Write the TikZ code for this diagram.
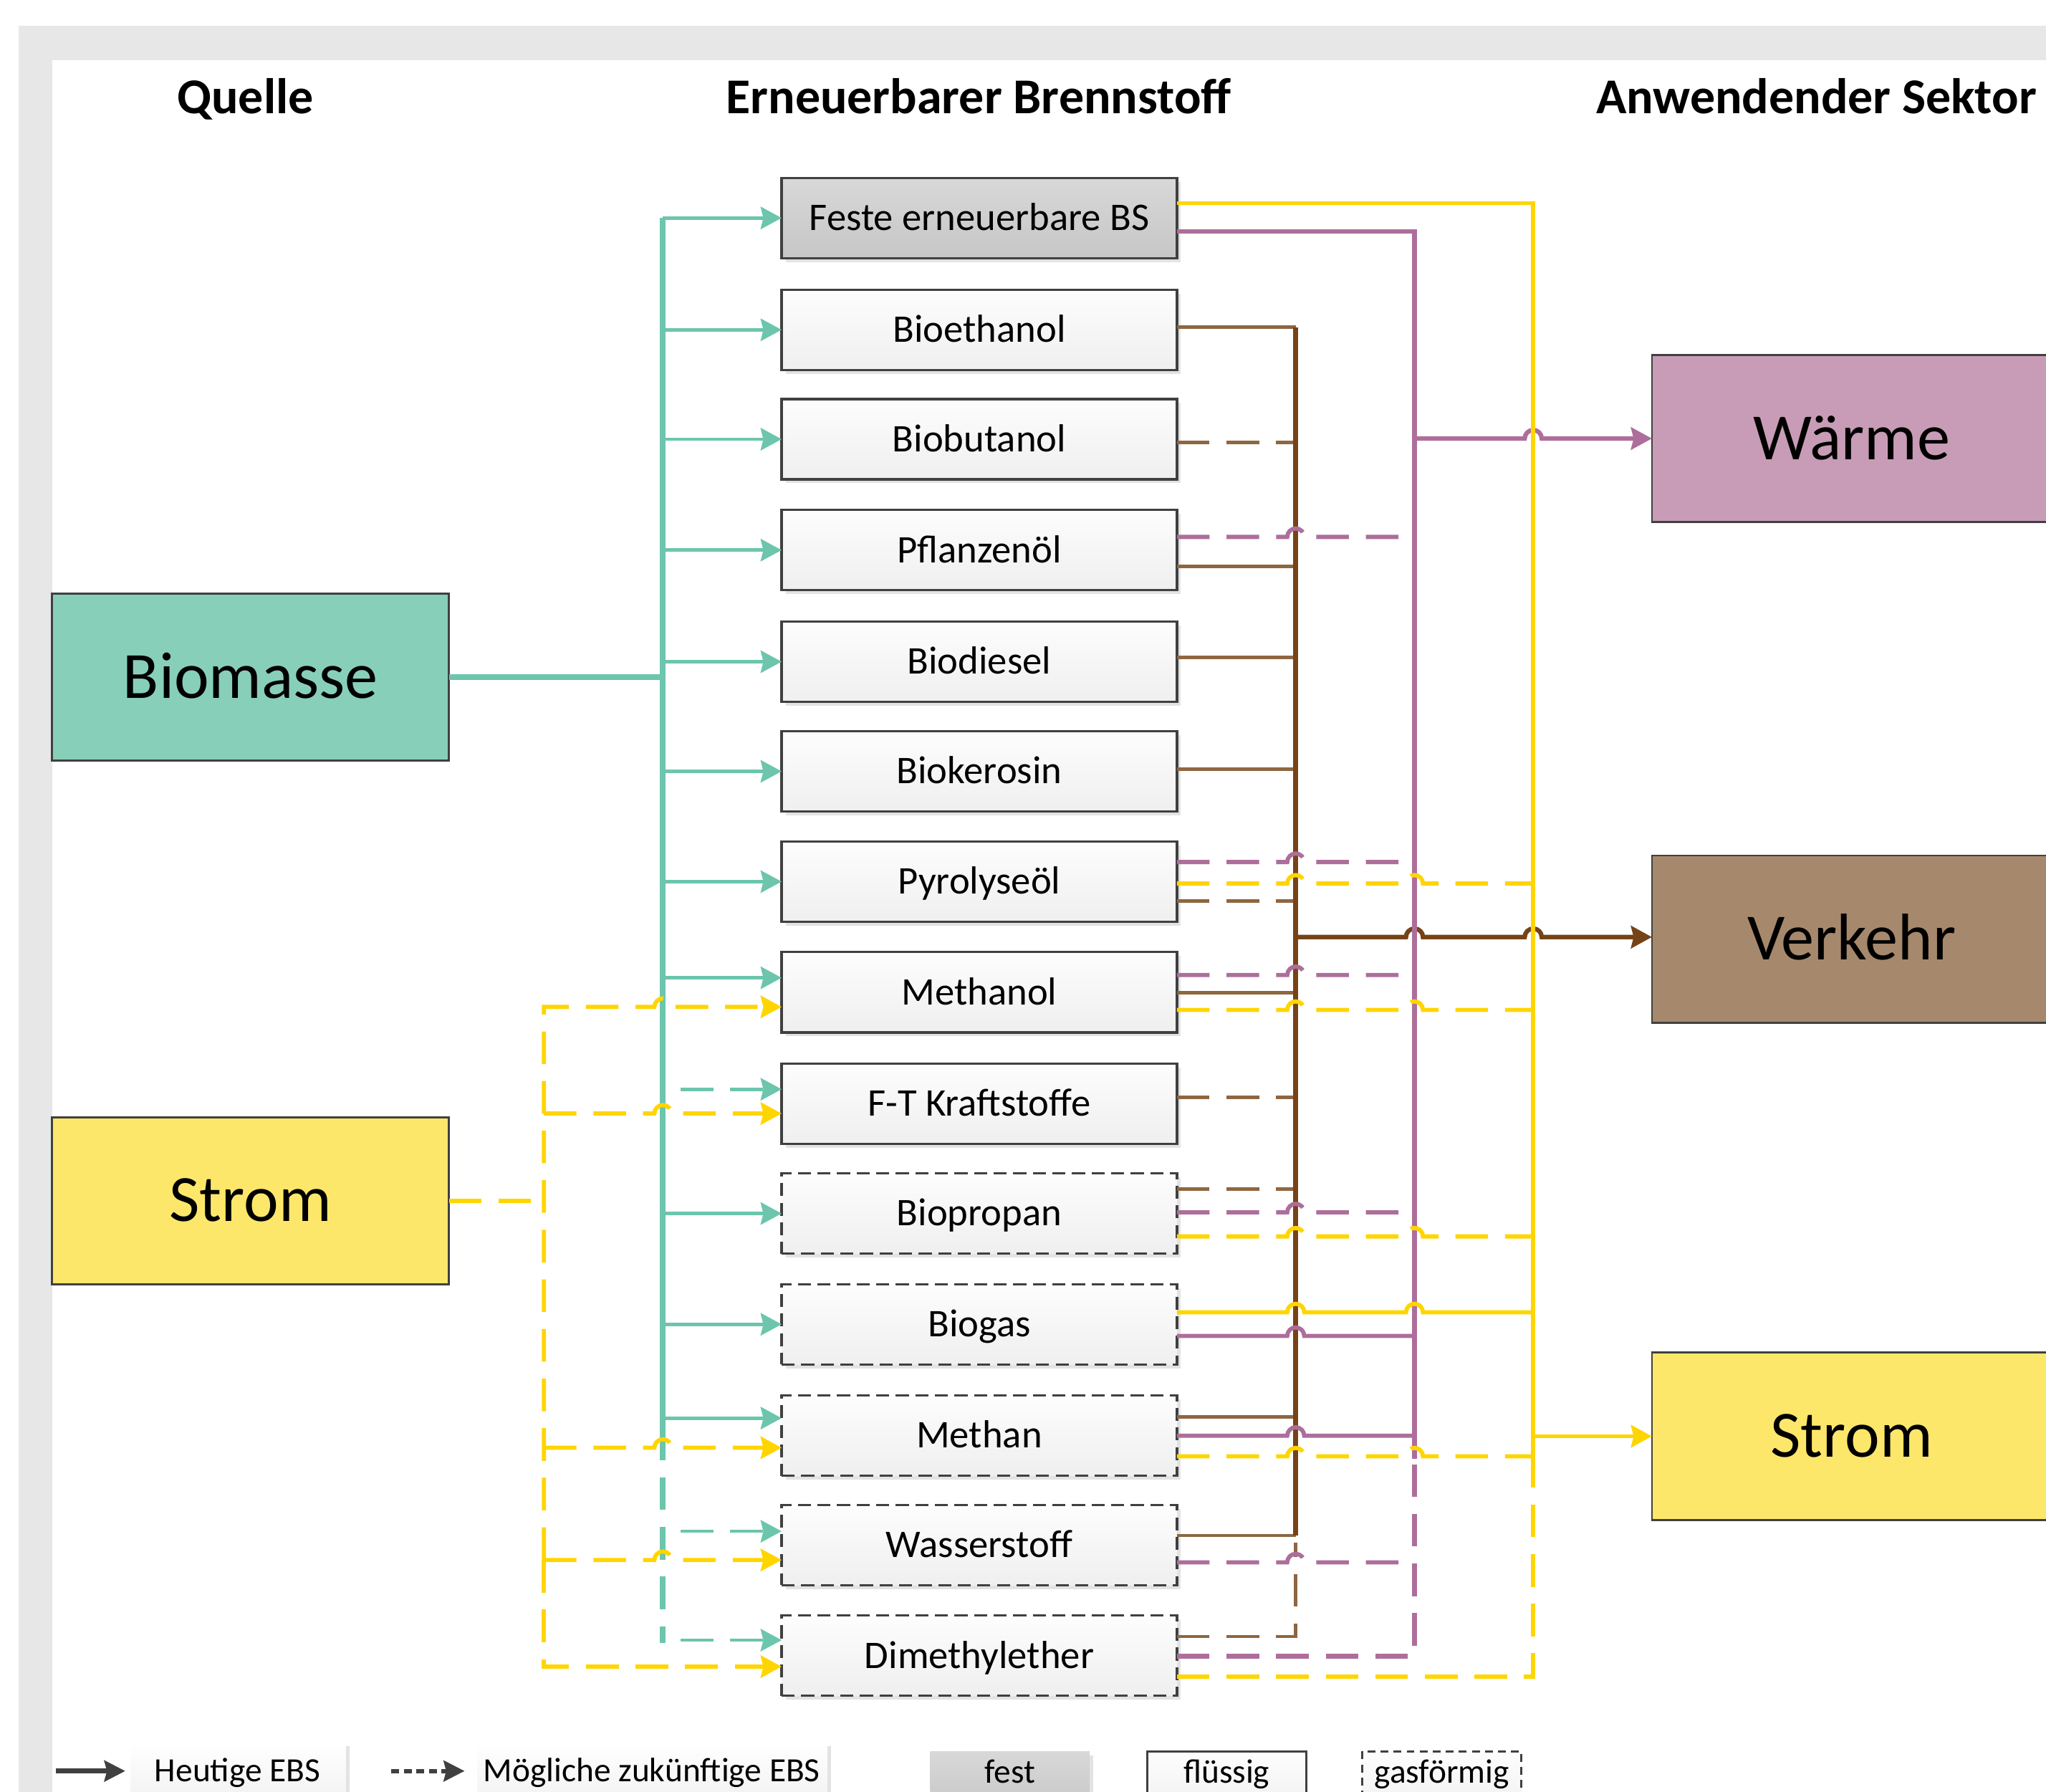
\documentclass[tikz,border=0pt]{standalone}
\usepackage{fontspec}
\setmainfont{Carlito}
\usetikzlibrary{arrows.meta,shadows}
\definecolor{bgGray}{HTML}{E7E7E7}
\definecolor{tealF}{HTML}{88CFBA}
\definecolor{tealL}{HTML}{6CC5AC}
\definecolor{yelF}{HTML}{FDE76B}
\definecolor{yelL}{HTML}{FFD500}
\definecolor{pinkF}{HTML}{C89CB6}
\definecolor{pinkL}{HTML}{AD6E9B}
\definecolor{brownF}{HTML}{A6896C}
\definecolor{brownL}{HTML}{8E6640}
\definecolor{brownD}{HTML}{754316}
\definecolor{edgeC}{HTML}{404040}
\definecolor{boxTop}{HTML}{FDFDFD}
\definecolor{boxBot}{HTML}{EFEFEF}
\definecolor{solTop}{HTML}{D8D8D8}
\definecolor{solBot}{HTML}{C6C6C6}
\definecolor{shadowC}{HTML}{E3E3E3}

\newcommand\hopat[2]{-- ({#1-6.5},#2) arc[start angle=180,end angle=0,radius=3.25pt]}

\begin{document}
\begin{tikzpicture}[x=0.5pt,y=-0.5pt,
  every node/.style={inner sep=0pt,outer sep=0pt},
  fuel/.style={draw=edgeC,line width=0.9pt,minimum width=151.5pt,minimum height=30.75pt,
     top color=boxTop,bottom color=boxBot,font=\fontsize{15}{18}\selectfont,
     text height=11pt,text depth=1.5pt,
     drop shadow={shadow xshift=1.5pt,shadow yshift=-1.5pt,fill=shadowC,opacity=1}},
  solidfuel/.style={fuel,top color=solTop,bottom color=solBot},
  gasfuel/.style={fuel,dash pattern=on 5pt off 2.5pt},
  big/.style={draw=edgeC,line width=0.8pt,minimum width=152pt,minimum height=64pt,
     font=\fontsize{25.3}{30}\selectfont,text height=18pt,text depth=2pt},
  head/.style={font=\fontsize{19.2}{23}\selectfont\bfseries,text height=13.6pt,text depth=1.5pt},
  leg/.style={font=\fontsize{13}{16}\selectfont,text height=9.7pt,text depth=1.5pt},
  arr/.style={-{Stealth[length=8pt,width=8.5pt,inset=1pt]}},
  dsh/.style={dash pattern=on 12.5pt off 6.5pt},
  tl/.style={draw=tealL,line width=1.3pt},
  tlbus/.style={draw=tealL,line width=2.2pt},
  yl/.style={draw=yelL,line width=1.6pt},
  pk/.style={draw=pinkL,line width=1.6pt},
  br/.style={draw=brownL,line width=1.3pt},
  brbus/.style={draw=brownD,line width=1.8pt},
]
\useasboundingbox (0,0) rectangle (1568,1373);
\fill[bgGray] (14,20) rectangle (1580,1390);
\fill[white] (40,46) rectangle (1580,1390);

% headers
\node[head] (hq) at (188,75) {Quelle};
\node[head] (hb) at (750,75) {Erneuerbarer Brennstoff};
\node[head] (ha) at (1392,75) {Anwendender Sektor};

% sources and sectors
\node[big,fill=tealF] (bio) at (192,519) {Biomasse};
\node[big,fill=yelF] (strL) at (192,920) {Strom};
\node[big,fill=pinkF,minimum width=153pt] (waerme) at (1419,336) {Wärme};
\node[big,fill=brownF,minimum width=153pt] (verkehr) at (1419,719.5) {Verkehr};
\node[big,fill=yelF,minimum width=153pt] (strR) at (1419,1100.5) {Strom};

% fuels
\node[solidfuel] (f0) at (750.5,167) {Feste erneuerbare BS};
\node[fuel] (f1) at (750.5,252.7) {Bioethanol};
\node[fuel] (f2) at (750.5,336.5) {Biobutanol};
\node[fuel] (f3) at (750.5,421.5) {Pflanzenöl};
\node[fuel] (f4) at (750.5,507) {Biodiesel};
\node[fuel] (f5) at (750.5,591) {Biokerosin};
\node[fuel] (f6) at (750.5,675.5) {Pyrolyseöl};
\node[fuel] (f7) at (750.5,760.3) {Methanol};
\node[fuel] (f8) at (750.5,845.6) {F-T Kraftstoffe};
\node[gasfuel] (f9) at (750.5,929.8) {Biopropan};
\node[gasfuel] (f10) at (750.5,1014.7) {Biogas};
\node[gasfuel] (f11) at (750.5,1100) {Methan};
\node[gasfuel] (f12) at (750.5,1183.8) {Wasserstoff};
\node[gasfuel] (f13) at (750.5,1268.6) {Dimethylether};

% ---------- teal (Biomasse)
\coordinate (TB) at (508,0);
\draw[tlbus] (bio.east) -- (bio.east -| TB);
\draw[tlbus] (TB |- f0.west) -- (508,1094);
\draw[tlbus,dsh] (508,1094) -- (508,1259);
\foreach \i in {0,...,6,9,10} { \draw[tl,arr] (TB |- f\i.west) -- (f\i.west); }
\draw[tl,arr] (508,749.2) -- (f7.west |- 0,749.2);
\draw[tl,arr] (508,1086.6) -- (f11.west |- 0,1086.6);
\draw[tl,dsh,arr] (521.7,834.6) -- (f8.west |- 0,834.6);
\draw[tl,dsh,arr] (521.7,1173.3) -- (f12.west |- 0,1173.3);
\draw[tl,dsh,arr] (521.7,1256.7) -- (f13.west |- 0,1256.7);

% ---------- yellow (Strom) left
\coordinate (YB) at (416.8,0);
\draw[yl,dsh] (strL.east) -- (strL.east -| YB);
\draw[yl,dsh,arr] (416.8,1195.3) -- (416.8,771.5) \hopat{508}{771.5} -- (f7.west |- 0,771.5);
\draw[yl,dsh,arr] (416.8,853.2) \hopat{508}{853.2} -- (f8.west |- 0,853.2);
\draw[yl,dsh,arr] (416.8,1109.3) \hopat{508}{1109.3} -- (f11.west |- 0,1109.3);
\draw[yl,dsh,arr] (416.8,1195.3) \hopat{508}{1195.3} -- (f12.west |- 0,1195.3);
\draw[yl,dsh,arr] (416.8,1195.3) -- (416.8,1277) -- (f13.west |- 0,1277);

% ---------- brown (Verkehr)
\draw[br] (f1.east |- 0,250.7) -- (993,250.7);
\draw[br,dsh] (f2.east |- 0,339.1) -- (993,339.1);
\draw[br] (f3.east |- 0,434.1) -- (993,434.1);
\draw[br] (f4.east |- 0,503.7) -- (993,503.7);
\draw[br] (f5.east |- 0,589.5) -- (993,589.5);
\draw[br,dsh] (f6.east |- 0,690.4) -- (993,690.4);
\draw[br] (f7.east |- 0,760.8) -- (993,760.8);
\draw[br,dsh] (f8.east |- 0,840.6) -- (993,840.6);
\draw[br,dsh] (f9.east |- 0,911) -- (993,911);
\draw[br] (f11.east |- 0,1085.6) -- (993,1085.6);
\draw[br] (f12.east |- 0,1176.5) -- (993,1176.5);
\draw[br,dsh] (f13.east |- 0,1254) -- (993,1254) -- (993,1182);
\draw[brbus] (993,250.7) -- (993,1176.5);
\draw[brbus,line width=1.7pt,arr] (993,718) \hopat{1084}{718} \hopat{1175}{718} -- (verkehr.west |- 0,718);

% ---------- pink (Wärme)
\draw[pk,line width=1.7pt] (f0.east |- 0,177.4) -- (1084,177.4) -- (1084,1118);
\draw[pk,dsh,line width=1.7pt] (f13.east |- 0,1269) -- (1084,1269) -- (1084,1112);
\draw[pk,dsh] (f3.east |- 0,411.4) \hopat{993}{411.4} -- (1084,411.4);
\draw[pk,dsh] (f6.east |- 0,660.5) \hopat{993}{660.5} -- (1084,660.5);
\draw[pk,dsh] (f7.east |- 0,747.1) \hopat{993}{747.1} -- (1084,747.1);
\draw[pk,dsh] (f9.east |- 0,928.9) \hopat{993}{928.9} -- (1084,928.9);
\draw[pk] (f10.east |- 0,1023.6) \hopat{993}{1023.6} -- (1084,1023.6);
\draw[pk] (f11.east |- 0,1100.1) \hopat{993}{1100.1} -- (1084,1100.1);
\draw[pk,dsh] (f12.east |- 0,1197.1) \hopat{993}{1197.1} -- (1084,1197.1);
\draw[pk,line width=1.7pt,arr] (1084,336) \hopat{1175}{336} -- (waerme.west);

% ---------- yellow (Strom) right
\draw[yl,line width=1.5pt] (f0.east |- 0,155.7) -- (1175,155.7) -- (1175,1126);
\draw[yl,dsh] (f13.east |- 0,1284.8) -- (1175,1284.8) -- (1175,1120);
\draw[yl,dsh] (f6.east |- 0,677) \hopat{993}{677} \hopat{1084}{677} -- (1175,677);
\draw[yl,dsh] (f7.east |- 0,773.8) \hopat{993}{773.8} \hopat{1084}{773.8} -- (1175,773.8);
\draw[yl,dsh] (f9.east |- 0,947.4) \hopat{993}{947.4} \hopat{1084}{947.4} -- (1175,947.4);
\draw[yl] (f10.east |- 0,1005.5) \hopat{993}{1005.5} \hopat{1084}{1005.5} -- (1175,1005.5);
\draw[yl,dsh] (f11.east |- 0,1115.9) \hopat{993}{1115.9} \hopat{1084}{1115.9} -- (1175,1115.9);
\draw[yl,arr] (1175,1100.5) -- (strR.west);

% ---------- legend
\fill[shadowC] (265,1338) rectangle (268,1390);
\shade[top color=white,bottom color=boxBot] (100,1335) rectangle (265,1390);
\fill[shadowC] (634,1338) rectangle (637,1390);
\shade[top color=white,bottom color=boxBot] (366,1335) rectangle (634,1390);
\fill[shadowC] (835,1345) rectangle (838,1390);
\shade[top color=solTop,bottom color=solBot] (713,1342) rectangle (835,1390);
\draw[draw=edgeC,line width=0.8pt,top color=boxTop,bottom color=boxBot] (879,1342) rectangle (1001,1395);
\draw[draw=edgeC,line width=0.8pt,dash pattern=on 3pt off 2pt,top color=boxTop,bottom color=boxBot] (1044,1342) rectangle (1166,1395);
\coordinate (la1) at (43,1357);
\coordinate (la2) at (96,1357);
\coordinate (lb1) at (300,1357);
\coordinate (lb2) at (356,1357);
\draw[draw=edgeC,line width=2pt,-{Stealth[length=8pt,width=8pt,inset=1pt]}] (la1) -- (la2);
\draw[draw=edgeC,line width=1.6pt,dash pattern=on 3pt off 1.8pt,-{Stealth[length=8pt,width=8pt,inset=1pt]}] (lb1) -- (lb2);
\node[leg] (lh) at (182,1357) {Heutige EBS};
\node[leg] (lm) at (499.5,1357) {Mögliche zukünftige EBS};
\node[leg] (lf) at (774,1358) {fest};
\node[leg] (lfl) at (940,1358) {flüssig};
\node[leg] (lg) at (1105,1358) {gasförmig};
\end{tikzpicture}
\end{document}
